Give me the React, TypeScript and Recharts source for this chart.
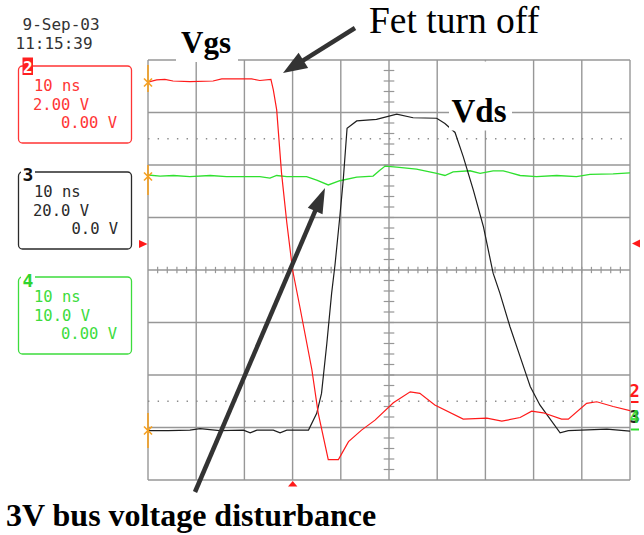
import { LineChart, Line, XAxis, YAxis, CartesianGrid, ReferenceLine } from 'recharts'

// scope capture, 10 ns/div, levels in screen divisions (centre = 0)
const gridTimes = [0, 10, 20, 30, 40, 50, 60, 70, 80, 90, 100]
const gridLevels = [-4, -3, -2, -1, 0, 1, 2, 3, 4]
const dottedLevels = [2.5, -2.5]

// channel 2, Vgs (red)
const vgsTime = [0, 1.8, 3.5, 5.2, 8.7, 13.5, 15.3, 21.5, 23.2, 25.5, 26.0, 26.7, 27.7, 28.8, 30.0, 31.5, 34.0, 35.3, 37.4, 39.5, 41.6, 44.3, 47.1, 50.9, 54.4, 56.4, 59.5, 65.4, 70.3, 73.4, 77.2, 79.6, 82.0, 85.8, 87.2, 91.0, 93.1, 96.5, 100]
const vgsLevel = [3.58, 3.62, 3.63, 3.6, 3.59, 3.6, 3.64, 3.64, 3.61, 3.63, 3.43, 3.05, 1.85, 0.9, 0, -0.7, -1.9, -2.72, -3.61, -3.61, -3.27, -3.05, -2.86, -2.53, -2.32, -2.35, -2.57, -2.84, -2.82, -2.88, -2.81, -2.69, -2.72, -2.84, -2.84, -2.54, -2.51, -2.6, -2.68]

// channel 3, Vds (black)
const vdsTime = [0, 4.2, 8.7, 10.8, 14.9, 19.8, 21.2, 22.6, 26.0, 27.4, 28.8, 33.3, 35.0, 36.0, 37.1, 38.1, 38.8, 39.8, 40.5, 41.3, 43.3, 47.4, 51.6, 55.0, 59.9, 61.6, 63.7, 65.4, 67.5, 69.6, 71.6, 73.0, 75.1, 77.2, 79.3, 81.3, 85.5, 87.2, 95.2, 100]
const vdsLevel = [-3.06, -3.06, -3.05, -3.02, -3.06, -3.05, -3.1, -3.05, -3.05, -3.1, -3.05, -3.05, -2.73, -2.35, -1.4, -0.44, 0.1, 1.02, 1.71, 2.7, 2.84, 2.87, 2.97, 2.9, 2.89, 2.79, 2.62, 2.16, 1.52, 0.82, -0.06, -0.44, -1.08, -1.65, -2.22, -2.57, -3.1, -3.06, -3.03, -3.07]

// channel 4, 3V bus (green)
const busTime = [0, 2.5, 5.3, 8.7, 12.9, 16.3, 23.2, 25.3, 26.7, 28.8, 32.9, 35.0, 37.4, 39.8, 43.3, 46.7, 48.1, 49.2, 51.6, 55.7, 59.9, 61.6, 63.3, 66.8, 68.9, 71.6, 73.7, 77.2, 80.6, 84.8, 88.9, 91.7, 96.5, 100]
const busLevel = [1.81, 1.79, 1.8, 1.78, 1.8, 1.78, 1.78, 1.75, 1.8, 1.78, 1.78, 1.71, 1.62, 1.7, 1.77, 1.79, 1.9, 1.98, 1.96, 1.92, 1.84, 1.8, 1.87, 1.89, 1.84, 1.89, 1.89, 1.8, 1.78, 1.8, 1.78, 1.82, 1.83, 1.85]

const toSeries = (ts: number[], vs: number[]) => ts.map((t, i) => ({ t, v: vs[i] }))

const minorTimes = Array.from({ length: 49 }, (_, i) => (i + 1) * 2)
const minorLevels = Array.from({ length: 39 }, (_, i) => Math.round((-3.8 + i * 0.2) * 10) / 10)

const MONO = '"DejaVu Sans Mono", monospace'
const SERIF = '"Liberation Serif", "Times New Roman", serif'

function Arrow({ x1, y1, x2, y2, len, half }: { x1: number; y1: number; x2: number; y2: number; len: number; half: number }) {
  const dx = x2 - x1
  const dy = y2 - y1
  const d = Math.hypot(dx, dy)
  const ux = dx / d
  const uy = dy / d
  const bx = x2 - ux * len
  const by = y2 - uy * len
  const pts = `${x2},${y2} ${bx - uy * half},${by + ux * half} ${bx + uy * half},${by - ux * half}`
  return (
    <g>
      <line x1={x1} y1={y1} x2={bx + ux * 2} y2={by + uy * 2} stroke="#333" strokeWidth={4.5} />
      <polygon points={pts} fill="#333" />
    </g>
  )
}

function ChannelBox({ y, color, lines, xs }: { y: number; color: string; lines: string[]; xs: number[] }) {
  return (
    <g>
      <rect x={18.5} y={y} width={113} height={77} rx={4} fill="none" stroke={color} strokeWidth={1.3} />
      {lines.map((s, i) => (
        <text key={i} x={xs[i]} y={y + 25 + i * 18.7} fill={color} fontFamily={MONO} fontSize={15.5}>
          {s}
        </text>
      ))}
    </g>
  )
}

function Marker({ y, top, bottom }: { y: number; top: number; bottom: number }) {
  return (
    <g stroke="#f5a020" strokeWidth={1.6}>
      <line x1={148} y1={top} x2={148} y2={bottom} />
      <line x1={144} y1={y - 4} x2={152} y2={y + 4} />
      <line x1={144} y1={y + 4} x2={152} y2={y - 4} />
    </g>
  )
}

export default function App() {
  return (
    <div style={{ position: 'absolute', left: 0, top: 0, width: 644, height: 535, background: '#fff', overflow: 'hidden' }}>
      <LineChart width={644} height={535} margin={{ top: 60, right: 14, bottom: 55, left: 148 }}>
        <XAxis type="number" dataKey="t" domain={[0, 100]} ticks={gridTimes} hide allowDataOverflow />
        <YAxis type="number" dataKey="v" domain={[-4, 4]} ticks={gridLevels} hide allowDataOverflow />
        <CartesianGrid stroke="#979797" strokeWidth={1.4} />
        {dottedLevels.map((l) => (
          <ReferenceLine key={'d' + l} y={l} stroke="#8a8a8a" strokeWidth={1.4} strokeDasharray="1.4 8.24" />
        ))}
        {minorTimes.map((t) => (
          <ReferenceLine key={'mt' + t} segment={[{ x: t, y: -0.06 }, { x: t, y: 0.06 }]} stroke="#979797" strokeWidth={1.2} />
        ))}
        {minorLevels.map((l) => (
          <ReferenceLine key={'ml' + l} segment={[{ x: 48.9, y: l }, { x: 51.1, y: l }]} stroke="#979797" strokeWidth={1.2} />
        ))}
        <Line data={toSeries(busTime, busLevel)} dataKey="v" type="linear" stroke="#2fe02f" strokeWidth={1.3} dot={false} isAnimationActive={false} />
        <Line data={toSeries(vdsTime, vdsLevel)} dataKey="v" type="linear" stroke="#1e1e1e" strokeWidth={1.2} dot={false} isAnimationActive={false} />
        <Line data={toSeries(vgsTime, vgsLevel)} dataKey="v" type="linear" stroke="#ff1a1a" strokeWidth={1.2} dot={false} isAnimationActive={false} />
      </LineChart>

      <svg width={644} height={535} style={{ position: 'absolute', left: 0, top: 0, pointerEvents: 'none' }}>
        <text x={22.5} y={30} fill="#333" fontFamily={MONO} fontSize={16}>9-Sep-03</text>
        <text x={15.5} y={48.5} fill="#333" fontFamily={MONO} fontSize={16}>11:15:39</text>

        <ChannelBox y={66} color="#ff3535" lines={['10 ns', '2.00 V', '0.00 V']} xs={[34, 33, 61]} />
        <rect x={22.5} y={57.5} width={10.5} height={17.5} fill="#ff2020" />
        <text x={27.7} y={72.5} fill="#fff" fontFamily={MONO} fontSize={16} fontWeight="bold" textAnchor="middle">2</text>

        <ChannelBox y={172} color="#2a2a2a" lines={['10 ns', '20.0 V', '0.0 V']} xs={[34, 33, 71.5]} />
        <rect x={21} y={166} width={14} height={10} fill="#fff" />
        <text x={28} y={181} fill="#111" fontFamily={MONO} fontSize={18} fontWeight="bold" textAnchor="middle">3</text>

        <ChannelBox y={277} color="#3ddc3d" lines={['10 ns', '10.0 V', '0.00 V']} xs={[34, 34, 61]} />
        <rect x={21} y={271} width={14} height={10} fill="#fff" />
        <text x={28} y={287} fill="#2fd42f" fontFamily={MONO} fontSize={18} fontWeight="bold" textAnchor="middle">4</text>

        <Marker y={82.5} top={65} bottom={92} />
        <Marker y={176.5} top={165} bottom={195} />
        <Marker y={430.5} top={413} bottom={448} />

        <polygon points="139,240 147.5,244 139,248" fill="#ff1a1a" />
        <polygon points="640,239.5 632,243.5 640,247.5" fill="#ff1a1a" />
        <polygon points="292.7,481 288,486.5 297.4,486.5" fill="#ff1a1a" />

        <text x={634.5} y={397} fill="#ff1a1a" fontFamily={MONO} fontSize={17} fontWeight="bold" textAnchor="middle">2</text>
        <line x1={631} y1={402} x2={638.5} y2={402} stroke="#ff1a1a" strokeWidth={2} />
        <text x={634.5} y={423} fill="#222" fontFamily={MONO} fontSize={17} fontWeight="bold" textAnchor="middle">3</text>
        <text x={634.5} y={423} fill="#2fe02f" fontFamily={MONO} fontSize={17} fontWeight="bold" textAnchor="middle" opacity={0.85}>4</text>
        <line x1={631} y1={429.5} x2={639} y2={429.5} stroke="#2fe02f" strokeWidth={2} />

        <rect x={176} y={22} width={62} height={40} fill="#fff" />
        <text x={181} y={53} fill="#000" fontFamily={SERIF} fontSize={31} fontWeight="bold">Vgs</text>
        <rect x={449} y={61.5} width={63} height={69} fill="#fff" />
        <text x={451.5} y={121.5} fill="#000" fontFamily={SERIF} fontSize={33} fontWeight="bold">Vds</text>

        <text x={369} y={33} fill="#000" fontFamily={SERIF} fontSize={37.5}>Fet turn off</text>
        <Arrow x1={355} y1={28} x2={283} y2={73} len={24} half={9} />
        <Arrow x1={195} y1={492} x2={325} y2={188} len={25} half={8} />

        <text x={6} y={526} fill="#000" fontFamily={SERIF} fontSize={32} fontWeight="bold">3V bus voltage disturbance</text>
      </svg>
    </div>
  )
}
